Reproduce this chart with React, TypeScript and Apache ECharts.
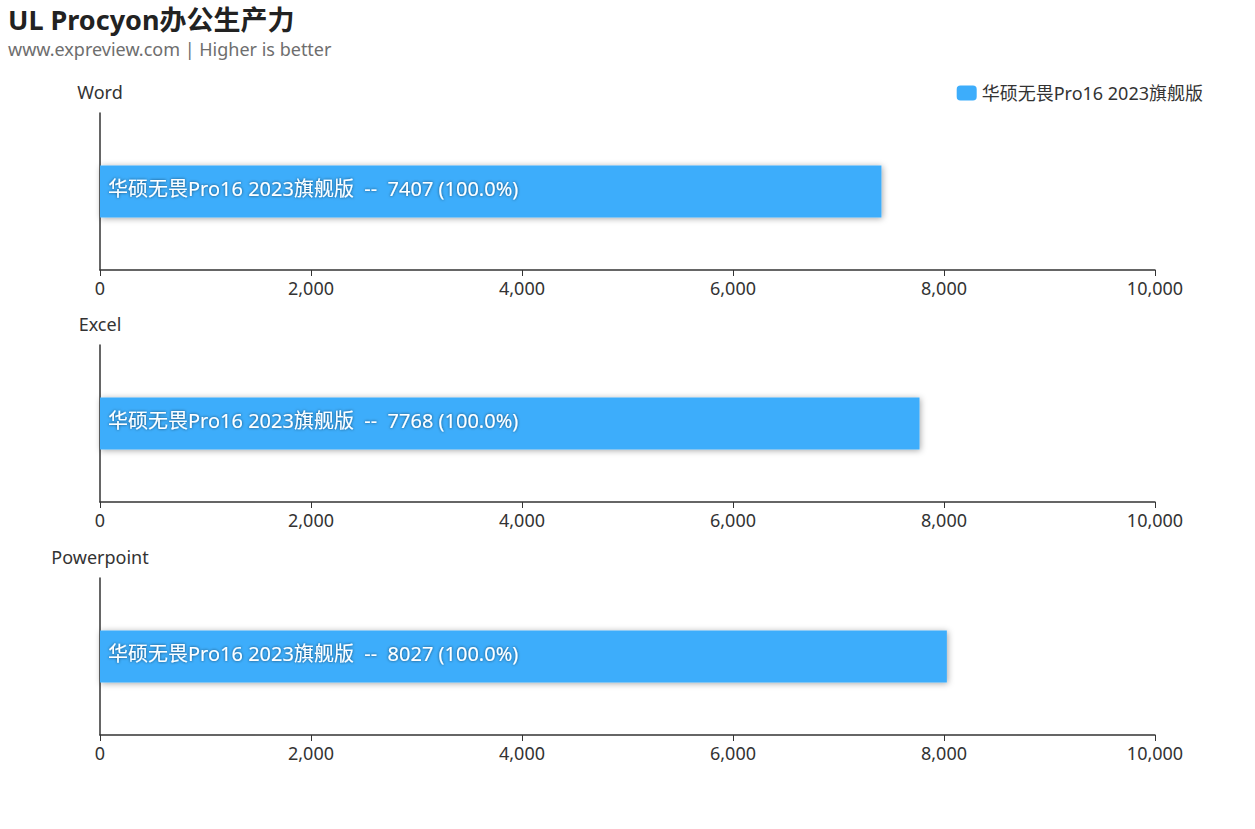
import React, { useEffect, useRef } from "react";
import * as echarts from "echarts";

const titleText = "UL Procyon办公生产力";
const subtitleText = "www.expreview.com | Higher is better";
const seriesName = "华硕无畏Pro16 2023旗舰版";
const tests = ["Word", "Excel", "Powerpoint"];
const scores = [7407, 7768, 8027];
const percents = ["100.0%", "100.0%", "100.0%"];
const xTicks = [0, 2000, 4000, 6000, 8000, 10000];

const FONT = "'Noto Sans', 'Noto Sans CJK SC', sans-serif";
const BAR = "#3dadfb";

export default function App() {
  const ref = useRef<HTMLDivElement>(null);
  useEffect(() => {
    document.body.style.margin = "0";
    const chart = echarts.init(ref.current!, null, { renderer: "svg" });
    const tops = [113, 345, 578];
    const grids = tests.map((_, i) => ({ left: 100, right: 100, top: tops[i], height: 157 }));
    const xAxes = tests.map((_, i) => ({
      type: "value",
      gridIndex: i,
      min: xTicks[0],
      max: xTicks[xTicks.length - 1],
      interval: xTicks[1] - xTicks[0],
      splitLine: { show: false },
      axisLine: { show: true, lineStyle: { color: "#333", width: 1.5 } },
      axisTick: { show: true, length: 6, lineStyle: { color: "#333" } },
      axisLabel: {
        color: "#333",
        fontSize: 18,
        fontFamily: FONT,
        margin: 9,
        formatter: (v: number) => v.toLocaleString("en-US"),
      },
    }));
    const yAxes = tests.map((t, i) => ({
      type: "category",
      gridIndex: i,
      data: [t],
      name: t,
      nameLocation: "end",
      nameGap: 12,
      nameTextStyle: { color: "#333", fontSize: 18, fontFamily: FONT },
      axisLine: { show: true, lineStyle: { color: "#333", width: 1.5 } },
      axisTick: { show: false },
      axisLabel: { show: false },
    }));
    const series = tests.map((t, i) => ({
      type: "bar",
      name: seriesName,
      xAxisIndex: i,
      yAxisIndex: i,
      barWidth: 52,
      data: [scores[i]],
      itemStyle: {
        color: BAR,
        shadowBlur: 6,
        shadowColor: "rgba(0,0,0,0.35)",
        shadowOffsetX: 1,
        shadowOffsetY: 1,
      },
      label: {
        show: true,
        position: "insideLeft",
        distance: 8,
        offset: [0, -3],
        color: "#fff",
        fontSize: 20,
        fontFamily: FONT,
        textShadowColor: "rgba(0,0,0,0.6)",
        textShadowBlur: 3,
        formatter: () => `${seriesName}  --  ${scores[i]} (${percents[i]})`,
      },
    }));
    chart.setOption({
      animation: false,
      backgroundColor: "#fff",
      title: {
        text: titleText,
        subtext: subtitleText,
        left: 3,
        top: 1,
        itemGap: 7,
        textStyle: { color: "#222", fontSize: 27, fontWeight: "bold", fontFamily: FONT },
        subtextStyle: { color: "#6e6e6e", fontSize: 18, fontFamily: FONT },
      },
      legend: {
        right: 47,
        top: 79,
        itemWidth: 20,
        itemHeight: 15,
        itemGap: 8,
        textStyle: { color: "#333", fontSize: 18, fontFamily: FONT },
        data: [{ name: seriesName, icon: "roundRect" }],
      },
      grid: grids,
      xAxis: xAxes,
      yAxis: yAxes,
      series,
    });
    return () => chart.dispose();
  }, []);
  return <div ref={ref} style={{ width: 1255, height: 829 }} />;
}
